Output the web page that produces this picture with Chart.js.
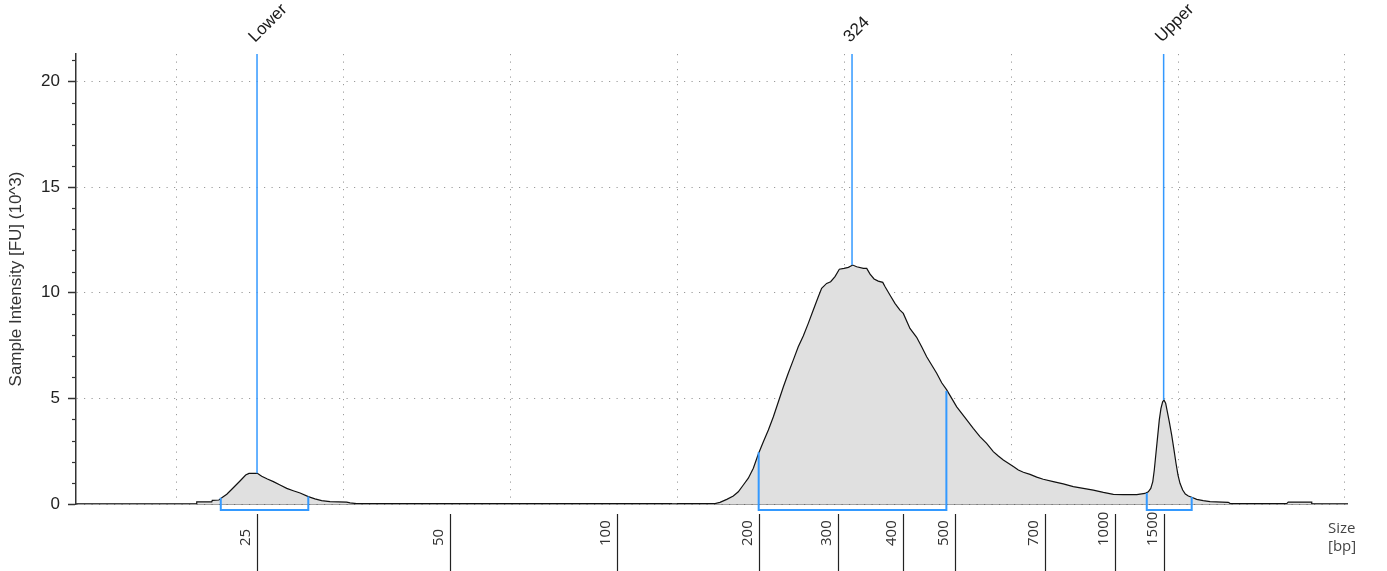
<!DOCTYPE html>
<html>
<head>
<meta charset="utf-8">
<script src="https://cdn.jsdelivr.net/npm/chart.js@4.4.1/dist/chart.umd.min.js"></script>
<style>
html,body{margin:0;padding:0;background:#fff;}
#wrap{width:1387px;height:571px;position:relative;}
</style>
</head>
<body>
<div id="wrap"><canvas id="c"></canvas></div>
<script>
// Electropherogram trace: migration position (run units) and sample intensity (FU x10^3)
const traceX = [11.24,11.24,12.14,12.17,12.57,12.74,13.04,13.43,13.83,14.17,14.37,14.87,15.13,15.47,15.83,16.23,16.63,17.02,17.43,17.92,18.32,18.72,19.22,20.22,20.42,20.82,39.70,39.85,40.00,42.28,42.57,42.98,43.37,43.67,43.97,44.27,44.57,44.87,45.17,45.47,45.77,46.07,46.37,46.66,46.96,47.26,47.56,47.86,48.16,48.46,48.66,48.96,49.20,49.46,49.72,50.00,50.26,50.52,50.76,51.16,51.36,51.56,51.80,52.05,52.32,52.46,52.75,53.05,53.35,53.55,53.95,54.35,54.65,54.95,55.25,55.55,55.85,56.15,56.45,56.75,57.05,57.35,57.74,58.14,58.54,58.94,59.24,59.54,59.84,60.14,60.44,60.74,61.14,61.54,61.93,62.53,63.13,63.73,64.33,64.93,65.53,66.13,66.72,67.53,68.02,68.22,68.37,68.49,68.58,68.68,68.78,68.88,68.98,69.08,69.16,69.26,69.36,69.48,69.62,69.76,69.88,70.00,70.12,70.28,70.44,70.62,70.82,71.12,71.51,71.92,73.01,73.11,76.51,76.60,78.01,78.01];
const traceY = [0,0.10,0.10,0.17,0.19,0.30,0.46,0.77,1.09,1.37,1.45,1.45,1.31,1.18,1.06,0.90,0.74,0.63,0.52,0.35,0.24,0.16,0.11,0.09,0.05,0.02,0.02,null,0.02,0.02,0.08,0.22,0.38,0.58,0.90,1.22,1.69,2.37,2.95,3.50,4.13,4.84,5.55,6.19,6.81,7.44,7.95,8.55,9.18,9.81,10.21,10.44,10.52,10.76,11.11,11.15,11.20,11.31,11.23,11.15,11.15,10.88,10.65,10.55,10.49,10.28,9.89,9.50,9.18,9.02,8.31,7.89,7.44,6.97,6.58,6.19,5.74,5.40,5.00,4.60,4.29,3.98,3.58,3.19,2.87,2.48,2.27,2.08,1.93,1.77,1.61,1.50,1.40,1.27,1.17,1.06,0.95,0.82,0.74,0.66,0.55,0.46,0.44,0.44,0.50,0.58,0.74,1.06,1.61,2.40,3.19,3.98,4.53,4.84,4.92,4.77,4.37,3.89,3.27,2.56,1.93,1.37,0.98,0.66,0.47,0.38,0.32,0.22,0.16,0.11,0.08,0.03,0.02,0.09,0.09,0];

// Size ladder (bp) and their migration positions
const sizeLabels = ['25','50','100','200','300','400','500','700','1000','1500'];
const sizePositions = [14.85,26.41,36.43,44.89,49.62,53.51,56.66,62.04,66.25,69.14];

// Grid and y ticks
const gridPositions = [10,20,30,40,50,60,70,80];
const yTickValues = [0,5,10,15,20];

// Peak markers
const peakNames = ['Lower','324','Upper'];
const peakPositions = [14.85,50.48,69.14];
const peakHeights = [1.45,11.31,4.92];

// Integrated regions
const regionStart = [12.68,44.89,68.13];
const regionEnd = [17.92,56.13,70.82];
const regionStartY = [0.29,2.45,0.52];
const regionEndY = [0.35,5.35,0.33];

const X_MIN = 4.01, X_MAX = 80.12, Y_MIN = 0, Y_MAX = 21.3;
const REGION_BASE = -0.28;
const MINOR_STEP = 1;

const BLUE = '#3399ff';

const datasets = [];
datasets.push({
  label: 'Sample',
  data: traceX.map((x, i) => ({x: x, y: traceY[i]})),
  borderColor: '#111',
  borderWidth: 1.2,
  backgroundColor: 'rgb(224,224,224)',
  fill: 'origin',
  pointRadius: 0,
  tension: 0,
  spanGaps: false,
  order: 2
});
peakNames.forEach((n, i) => {
  datasets.push({
    label: n,
    data: [{x: peakPositions[i], y: peakHeights[i]}, {x: peakPositions[i], y: Y_MAX}],
    borderColor: BLUE, borderWidth: 1.5, pointRadius: 0, fill: false, order: 1
  });
  datasets.push({
    label: n + ' region',
    data: [
      {x: regionStart[i], y: regionStartY[i]},
      {x: regionStart[i], y: REGION_BASE},
      {x: regionEnd[i], y: REGION_BASE},
      {x: regionEnd[i], y: regionEndY[i]}
    ],
    borderColor: BLUE, borderWidth: 2, pointRadius: 0, fill: false, clip: false, order: 1
  });
});

const extras = {
  id: 'extras',
  afterDraw(chart) {
    const {ctx, chartArea, scales} = chart;
    const xs = scales.x, ys = scales.y;
    ctx.save();
    // minor y ticks
    ctx.strokeStyle = '#333';
    ctx.lineWidth = 1.2;
    for (let v = Y_MIN + MINOR_STEP; v <= Y_MAX; v += MINOR_STEP) {
      if (yTickValues.includes(v)) continue;
      const py = Math.round(ys.getPixelForValue(v)) + 0.5;
      ctx.beginPath();
      ctx.moveTo(chartArea.left - 4, py);
      ctx.lineTo(chartArea.left, py);
      ctx.stroke();
    }
    // size ladder ticks and labels
    ctx.strokeStyle = '#222';
    ctx.lineWidth = 1.2;
    ctx.fillStyle = '#333';
    ctx.font = '15px "Open Sans", "Noto Sans", sans-serif';
    sizePositions.forEach((p, i) => {
      const px = Math.round(xs.getPixelForValue(p)) + 0.5;
      ctx.beginPath();
      ctx.moveTo(px, chartArea.bottom + 10);
      ctx.lineTo(px, chart.height);
      ctx.stroke();
      ctx.save();
      ctx.translate(px - 12, chartArea.bottom + 42);
      ctx.rotate(-Math.PI / 2);
      ctx.textAlign = 'left';
      ctx.textBaseline = 'middle';
      ctx.fillText(sizeLabels[i], 0, 0);
      ctx.restore();
    });
    // axis unit label
    ctx.fillStyle = '#444';
    ctx.textAlign = 'left';
    ctx.textBaseline = 'alphabetic';
    ctx.fillText('Size', chartArea.right - 19, chartArea.bottom + 29);
    ctx.fillText('[bp]', chartArea.right - 19, chartArea.bottom + 47);
    // peak labels
    ctx.fillStyle = '#1a1a1a';
    ctx.font = '17px "Liberation Sans", Arial, sans-serif';
    peakNames.forEach((n, i) => {
      const px = xs.getPixelForValue(peakPositions[i]);
      ctx.save();
      ctx.translate(px - 2, chartArea.top - 11);
      ctx.rotate(-Math.PI / 4);
      ctx.textAlign = 'left';
      ctx.textBaseline = 'alphabetic';
      ctx.fillText(n, 0, 0);
      ctx.restore();
    });
    ctx.restore();
  }
};

new Chart(document.getElementById('c'), {
  type: 'line',
  data: {datasets: datasets},
  options: {
    responsive: true,
    maintainAspectRatio: false,
    animation: false,
    events: [],
    layout: {padding: {top: 54, right: 40, left: 0, bottom: 0}},
    plugins: {legend: {display: false}, tooltip: {enabled: false}, title: {display: false}},
    scales: {
      x: {
        type: 'linear',
        min: X_MIN, max: X_MAX,
        afterBuildTicks: s => { s.ticks = gridPositions.map(v => ({value: v})); },
        afterFit: s => { s.height = 67; },
        ticks: {display: false},
        grid: {color: '#9a9a9a', lineWidth: 1, drawTicks: false, drawOnChartArea: true},
        border: {display: true, color: '#444', width: 1.5, dash: [1.2, 6.3]}
      },
      y: {
        type: 'linear',
        min: Y_MIN, max: Y_MAX,
        afterBuildTicks: s => { s.ticks = yTickValues.map(v => ({value: v})); },
        afterFit: s => { s.width = 76; },
        ticks: {color: '#222', padding: 8, font: {family: '"Liberation Sans", Arial, sans-serif', size: 17}},
        grid: {color: '#9a9a9a', lineWidth: 1, drawTicks: true, tickLength: 8, tickColor: '#333', tickWidth: 1.5, drawOnChartArea: true},
        border: {display: true, color: '#333', width: 1.5, dash: [1.2, 6.3]},
        title: {display: true, text: 'Sample Intensity [FU] (10^3)', color: '#333', padding: {top: 6, bottom: 0}, font: {family: '"Liberation Sans", Arial, sans-serif', size: 17}}
      }
    }
  },
  plugins: [extras]
});
</script>
</body>
</html>
